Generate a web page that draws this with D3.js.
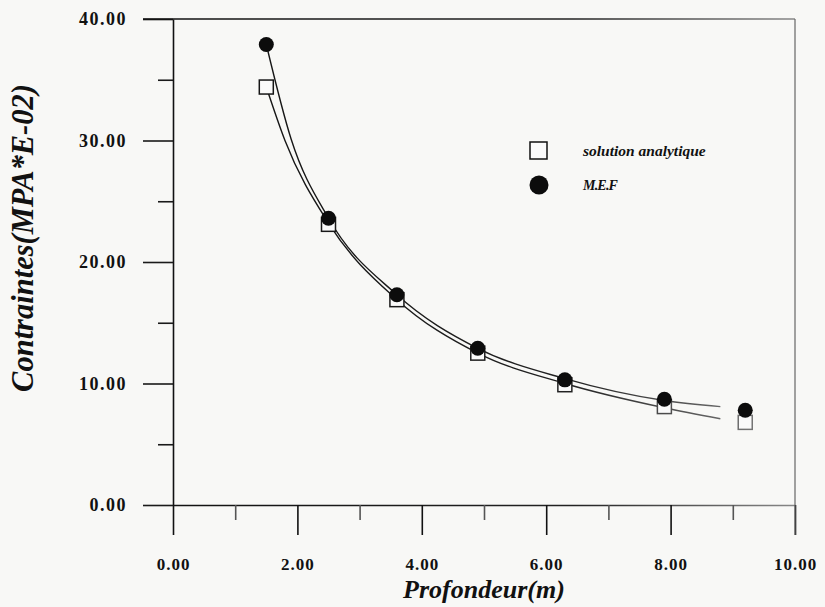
<!DOCTYPE html>
<html>
<head>
<meta charset="utf-8">
<script src="https://cdn.jsdelivr.net/npm/d3@7"></script>
<style>
  html, body { margin: 0; padding: 0; background: #f8f8f6; }
  svg { display: block; }
  .tick text { font-family: "Liberation Serif", "Times New Roman", serif; }
</style>
</head>
<body>
<svg id="chart" width="825" height="607"></svg>
<script>
// Profondeur (m) of the computed points
const depth = [1.5, 2.5, 3.6, 4.9, 6.3, 7.9, 9.2];
// Contraintes (MPA*E-02): finite-element results and analytical solution
const mefValues = [37.9, 23.6, 17.3, 12.9, 10.3, 8.7, 7.8];
const analyticValues = [34.4, 23.1, 16.9, 12.5, 9.9, 8.1, 6.8];

// Smoothed trend curves through each series
const mefCurveDepth = [1.5, 1.9, 2.5, 3.6, 4.9, 6.3, 7.9, 8.8];
const mefCurveValues = [37.9, 30.1, 23.6, 17.3, 12.9, 10.4, 8.6, 8.1];
const analyticCurveDepth = [1.5, 1.8, 2.5, 3.6, 4.9, 6.3, 7.9, 8.8];
const analyticCurveValues = [34.4, 30.0, 23.2, 16.9, 12.5, 10.0, 8.0, 7.1];

// Axis ticks
const xMajorTicks = [0, 2, 4, 6, 8, 10];
const xMinorTicks = [1, 3, 5, 7, 9];
const yMajorTicks = [0, 10, 20, 30, 40];
const yMinorTicks = [5, 15, 25, 35];

const legendLabels = ["solution analytique", "M.E.F"];
const xTitle = "Profondeur(m)";
const yTitle = "Contraintes(MPA*E-02)";

const svg = d3.select("#chart");
const serif = '"Liberation Serif", "Times New Roman", serif';

const x = d3.scaleLinear().domain([0, 10]).range([173, 795]);
const y = d3.scaleLinear().domain([0, 40]).range([505, 19]);

// ink that fades toward the right side
const defs = svg.append("defs");
const grad = defs.append("linearGradient")
  .attr("id", "ink").attr("gradientUnits", "userSpaceOnUse")
  .attr("x1", 150).attr("x2", 800).attr("y1", 0).attr("y2", 0);
grad.append("stop").attr("offset", "0%").attr("stop-color", "#111");
grad.append("stop").attr("offset", "65%").attr("stop-color", "#222");
grad.append("stop").attr("offset", "100%").attr("stop-color", "#8a8a8a");

// ---- axes ----
const fmt = d3.format(".2f");

const xAxis = svg.append("g").attr("transform", `translate(0,${y(0)})`)
  .call(d3.axisBottom(x).tickValues(xMajorTicks).tickSize(30).tickSizeOuter(0)
    .tickPadding(23).tickFormat(fmt));
const xMinor = svg.append("g").attr("transform", `translate(0,${y(0)})`)
  .call(d3.axisBottom(x).tickValues(xMinorTicks).tickSize(15).tickFormat(""));

const yAxis = svg.append("g").attr("transform", `translate(${x(0)},0)`)
  .call(d3.axisLeft(y).tickValues(yMajorTicks).tickSize(30).tickSizeOuter(0)
    .tickPadding(16).tickFormat(fmt));
const yMinor = svg.append("g").attr("transform", `translate(${x(0)},0)`)
  .call(d3.axisLeft(y).tickValues(yMinorTicks).tickSize(15).tickFormat(""));

[xAxis, xMinor, yAxis, yMinor].forEach(g => {
  g.selectAll("path.domain").attr("stroke", "url(#ink)").attr("stroke-width", 1.6);
  g.selectAll(".tick line").attr("stroke", "#1a1a1a").attr("stroke-width", 1.6);
});
xMinor.select("path.domain").remove();
yMinor.select("path.domain").remove();
xAxis.selectAll(".tick line").attr("stroke", "url(#ink)");
xMinor.selectAll(".tick line").attr("stroke", "#555");

xAxis.selectAll(".tick text")
  .attr("font-size", 17).attr("font-weight", "bold").attr("fill", "#111")
  .attr("letter-spacing", 1);
yAxis.selectAll(".tick text")
  .attr("font-size", 18).attr("font-weight", "bold").attr("fill", "#111")
  .attr("letter-spacing", 1.5);

// frame: top and right edges (extended like the major ticks)
svg.append("line")
  .attr("x1", x(0) - 30).attr("x2", x(10)).attr("y1", y(40)).attr("y2", y(40))
  .attr("stroke", "url(#ink)").attr("stroke-width", 1.6);
svg.append("line")
  .attr("x1", x(10)).attr("x2", x(10)).attr("y1", y(40)).attr("y2", y(0) + 30)
  .attr("stroke", "#666").attr("stroke-width", 1.2);

// ---- curves ----
const line = d3.line().x(d => x(d[0])).y(d => y(d[1])).curve(d3.curveMonotoneX);
const mefCurve = d3.zip(mefCurveDepth, mefCurveValues);
const analyticCurve = d3.zip(analyticCurveDepth, analyticCurveValues);

[mefCurve, analyticCurve].forEach(c => {
  svg.append("path").datum(c).attr("d", line)
    .attr("fill", "none").attr("stroke", "url(#ink)").attr("stroke-width", 1.4);
});

// ---- markers ----
svg.append("g").selectAll("rect").data(d3.zip(depth, analyticValues)).join("rect")
  .attr("x", d => x(d[0]) - 7).attr("y", d => y(d[1]) - 7)
  .attr("width", 14).attr("height", 14)
  .attr("fill", "#fafafa").attr("stroke", "url(#ink)").attr("stroke-width", 1.5);

svg.append("g").selectAll("circle").data(d3.zip(depth, mefValues)).join("circle")
  .attr("cx", d => x(d[0])).attr("cy", d => y(d[1])).attr("r", 7.5)
  .attr("fill", "#0c0c0c");

// ---- legend ----
const legend = svg.append("g");
legend.append("rect").attr("x", 530).attr("y", 142).attr("width", 17).attr("height", 17)
  .attr("fill", "#fafafa").attr("stroke", "#111").attr("stroke-width", 1.5);
legend.append("circle").attr("cx", 539).attr("cy", 185).attr("r", 9.5).attr("fill", "#0c0c0c");
legend.append("text").attr("x", 583).attr("y", 156)
  .attr("font-family", serif).attr("font-style", "italic").attr("font-weight", "bold")
  .attr("font-size", 15.5).attr("fill", "#111").text(legendLabels[0]);
legend.append("text").attr("x", 583).attr("y", 190)
  .attr("font-family", serif).attr("font-style", "italic").attr("font-weight", "bold")
  .attr("font-size", 14).attr("letter-spacing", -0.8).attr("fill", "#111").text(legendLabels[1]);

// ---- titles ----
svg.append("text").attr("x", 484).attr("y", 598).attr("text-anchor", "middle")
  .attr("font-family", serif).attr("font-style", "italic").attr("font-weight", "bold")
  .attr("font-size", 26).attr("fill", "#111").text(xTitle);
svg.append("text").attr("transform", "translate(33,238) rotate(-90)").attr("text-anchor", "middle")
  .attr("font-family", serif).attr("font-style", "italic").attr("font-weight", "bold")
  .attr("font-size", 30.5).attr("fill", "#111").text(yTitle);
</script>
</body>
</html>
